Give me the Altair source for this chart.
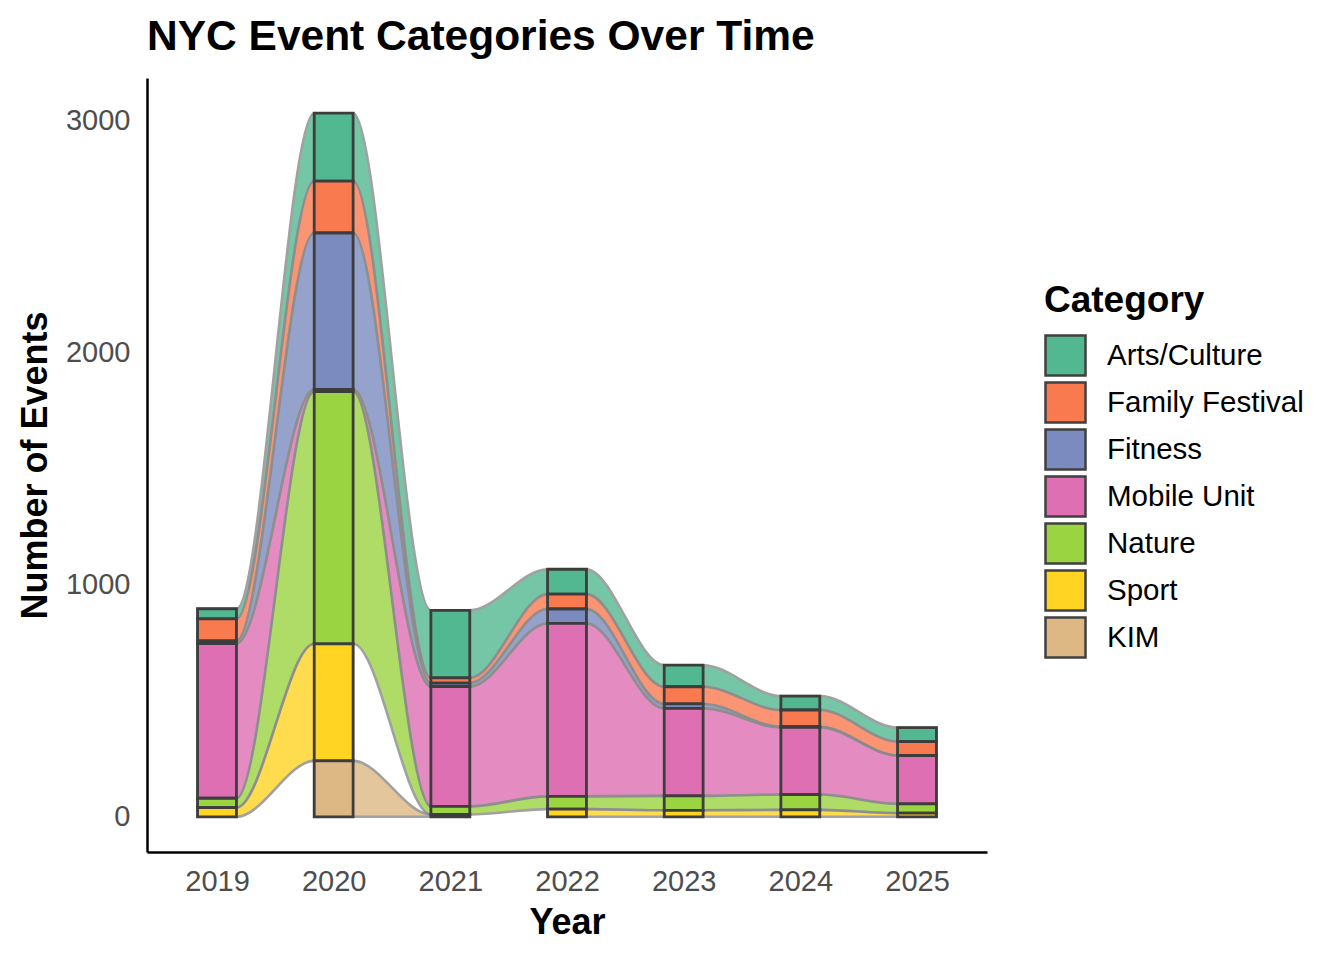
import altair as alt
import pandas as pd

years = [2019, 2020, 2021, 2022, 2023, 2024, 2025]
categories = ["Arts/Culture", "Family Festival", "Fitness", "Mobile Unit", "Nature", "Sport", "KIM"]
colors = ["#52B891", "#FA7A50", "#7B8BBF", "#DE6FB3", "#9AD441", "#FFD422", "#DDB884"]

# events per year, None = category not present that year
arts = [44, 293, 291, 107, 93, 60, 60]
family = [94, 223, 22, 64, 74, 72, 60]
fitness = [12, 673, 15, 62, 19, 3, 0]
mobile = [666, 10, 516, 745, 377, 289, 208]
nature = [40, 1086, 35, 55, 62, 66, 40]
sport = [40, 504, None, 33, 28, 30, 16]
kim = [None, 241, 10, None, None, None, None]

series = [arts, family, fitness, mobile, nature, sport, kim]

bar_rows, flow_rows = [], []
for k, (cat, vals) in enumerate(zip(categories, series)):
    run = 0
    prev = None
    for yr, v in zip(years, vals):
        if v is None:
            prev = None
            continue
        if prev is None:
            run += 1
        prev = v
        bar_rows.append({"year": yr, "category": cat, "rank": k, "events": v})
        for side in (-1, 1):
            flow_rows.append({"year": yr, "side": side, "category": cat, "rank": k,
                              "events": v, "run": f"{cat}-{run}"})

bars_df = pd.DataFrame(bar_rows)
flows_df = pd.DataFrame(flow_rows)

FONT = "Liberation Sans"

x_scale = alt.Scale(domain=[2018.4, 2025.6], nice=False, zero=False)
y_scale = alt.Scale(domain=[-151.5, 3181.5], nice=False, zero=False)
x_axis = alt.Axis(title="Year", values=years, format="d", labelPadding=15, titlePadding=9)
y_axis = alt.Axis(title="Number of Events", values=[0, 1000, 2000, 3000], format="d",
                  labelPadding=17, titlePadding=11)
color = alt.Color(
    "category:N",
    scale=alt.Scale(domain=categories, range=colors),
    legend=alt.Legend(
        title="Category", orient="none", legendX=897, legendY=205,
        titleFontSize=37, titleFontWeight="bold", titleColor="black", titleFont=FONT,
        labelFontSize=29.5, labelColor="black", labelFont=FONT, labelOffset=20, labelLimit=400,
        symbolType="square", symbolSize=1600, symbolStrokeColor="#404040",
        symbolStrokeWidth=2.5, symbolOpacity=1, rowPadding=-8, titlePadding=14,
    ),
)

stack_sort = [alt.SortField("rank", order="descending")]

# alluvia between the year columns
flows = alt.Chart(flows_df).transform_calculate(
    xpos="datum.year + datum.side / 6"
).transform_stack(
    stack="events", groupby=["year", "side"], as_=["lo", "hi"], sort=stack_sort
).mark_area(
    interpolate="monotone", opacity=0.8, stroke="#8a8a8a", strokeWidth=2.6
).encode(
    x=alt.X("xpos:Q", scale=x_scale, axis=x_axis),
    y=alt.Y("lo:Q", scale=y_scale, axis=y_axis),
    y2="hi:Q",
    color=color,
    detail="run:N",
)

# stacked strata for each year
bars = alt.Chart(bars_df).transform_stack(
    stack="events", groupby=["year"], as_=["y0", "y1"], sort=stack_sort
).transform_calculate(
    x0="datum.year - 1/6", x1="datum.year + 1/6"
).mark_bar(stroke="#3d3d3d", strokeWidth=2.8).encode(
    x=alt.X("x0:Q", scale=x_scale, axis=x_axis),
    x2="x1:Q",
    y=alt.Y("y0:Q", scale=y_scale, axis=y_axis),
    y2="y1:Q",
    color=color,
)

chart = alt.layer(flows, bars).properties(
    width=840,
    height=774,
    padding={"left": 139, "top": 70, "right": 330, "bottom": 100},
    autosize=alt.AutoSizeParams(type="none"),
    title=alt.Title("NYC Event Categories Over Time", anchor="start", frame="group",
                    fontSize=42.5, fontWeight="bold", font=FONT, color="black", offset=20),
).configure_view(
    stroke=None
).configure_axis(
    domainColor="black", domainWidth=2.5, ticks=False, grid=False,
    labelColor="#4d4d4d", labelFontSize=29, labelFont=FONT,
    titleFontSize=36, titleFontWeight="bold", titleColor="black", titleFont=FONT,
)

chart.save("out.html", embed_options={"renderer": "svg", "actions": False})
